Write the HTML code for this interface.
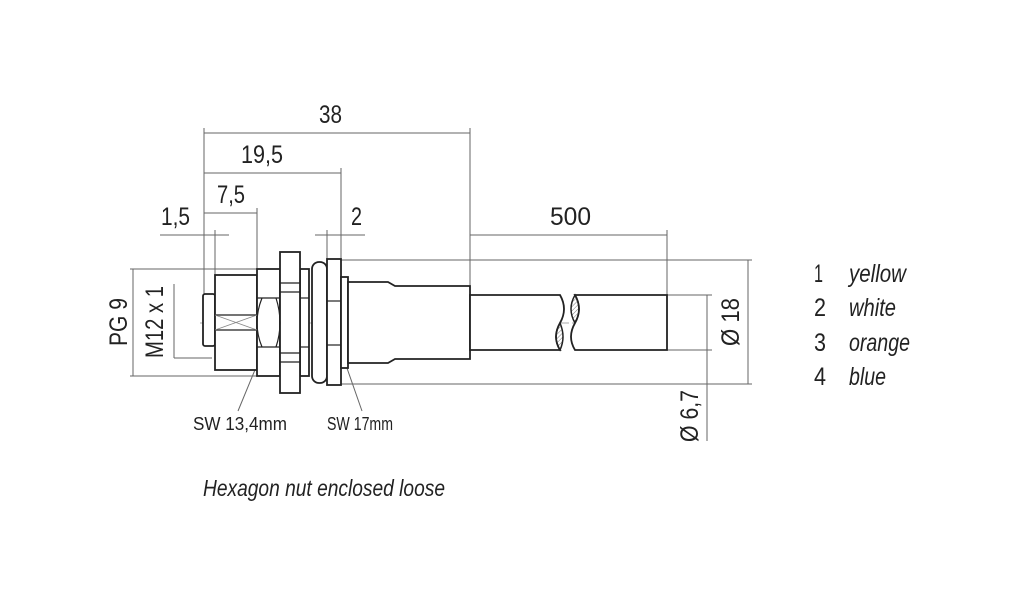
<!DOCTYPE html>
<html><head><meta charset="utf-8"><style>
html,body{margin:0;padding:0;background:#fff;}
svg{display:block;}
text{font-family:"Liberation Sans",sans-serif;fill:#222;}
</style></head><body>
<svg width="1009" height="602" viewBox="0 0 1009 602" xmlns="http://www.w3.org/2000/svg">
<defs>
<pattern id="h" width="3" height="3" patternUnits="userSpaceOnUse" patternTransform="rotate(45)"><line x1="0" y1="0" x2="0" y2="3" stroke="#555" stroke-width="0.8"/></pattern>
</defs>
<g stroke="#666" stroke-width="1" fill="none">
<line x1="204" y1="128" x2="204" y2="300"/>
<line x1="470" y1="128" x2="470" y2="288"/>
<line x1="341" y1="168" x2="341" y2="260"/>
<line x1="257" y1="208" x2="257" y2="270"/>
<line x1="215" y1="230" x2="215" y2="294"/>
<line x1="327" y1="230" x2="327" y2="260"/>
<line x1="667" y1="230" x2="667" y2="295"/>
<line x1="204" y1="133" x2="470" y2="133"/>
<line x1="204" y1="173" x2="341" y2="173"/>
<line x1="204" y1="213" x2="257" y2="213"/>
<line x1="160" y1="235" x2="229" y2="235"/>
<line x1="315" y1="235" x2="365" y2="235"/>
<line x1="470" y1="235" x2="667" y2="235"/>
<line x1="130" y1="269" x2="258" y2="269"/>
<line x1="130" y1="376" x2="258" y2="376"/>
<line x1="133" y1="269" x2="133" y2="376"/>
<line x1="174" y1="284" x2="174" y2="358"/>
<line x1="174" y1="358" x2="212" y2="358"/>
<line x1="341" y1="260" x2="752" y2="260"/>
<line x1="341" y1="384" x2="752" y2="384"/>
<line x1="748" y1="260" x2="748" y2="384"/>
<line x1="667" y1="295" x2="712" y2="295"/>
<line x1="667" y1="350" x2="712" y2="350"/>
<line x1="707" y1="295" x2="707" y2="441"/>
<line x1="200" y1="323" x2="667" y2="323" stroke="#aaa" stroke-dasharray="18 3 3 3"/>
<line x1="238" y1="411" x2="271" y2="331"/>
<line x1="362" y1="411" x2="334" y2="331"/>
</g>
<g fill="#222">
<path d="M271 328 l-2 8 l4 -1z"/><path d="M334 328 l-1 8 l4 -2z"/>
</g>
<g stroke="#222" stroke-width="1.8" fill="#fff">
<rect x="203" y="294" width="12" height="52" rx="2"/>
<rect x="215" y="275" width="42" height="95"/>
<rect x="257" y="269" width="23" height="107"/>
<rect x="300" y="269" width="9" height="107"/>
<rect x="312" y="262" width="15" height="121" rx="7"/>
<rect x="280" y="252" width="20" height="141"/>
<rect x="327" y="259" width="14" height="126"/>
<rect x="341" y="277" width="7" height="91"/>
<path d="M348 282 H388 L395 286 H470 V359 H395 L388 363 H348 Z"/>
<path d="M470 295 H560 Q568 309 560 323 Q552 337 560 350 H470 Z"/>
<path d="M575 295 H667 V350 H575 Q567 337 575 323 Q583 309 575 295 Z"/>
</g>
<path d="M560 323 Q552 337 560 350 Q566 337 560 323Z" fill="url(#h)" stroke="#222" stroke-width="1.5"/>
<path d="M575 295 Q567 309 575 323 Q583 309 575 295Z" fill="url(#h)" stroke="#222" stroke-width="1.5"/>
<g stroke="#222" stroke-width="1.2" fill="none">
<line x1="215" y1="315" x2="257" y2="315"/><line x1="215" y1="330" x2="257" y2="330"/>
<line x1="257" y1="298" x2="280" y2="298"/><line x1="257" y1="347" x2="280" y2="347"/>
<line x1="280" y1="283" x2="300" y2="283"/><line x1="280" y1="292" x2="300" y2="292"/>
<line x1="280" y1="353" x2="300" y2="353"/><line x1="280" y1="362" x2="300" y2="362"/>
<line x1="300" y1="298" x2="309" y2="298"/><line x1="300" y1="347" x2="309" y2="347"/>
<line x1="327" y1="301" x2="341" y2="301"/><line x1="327" y1="345" x2="341" y2="345"/>
<path d="M262 298 Q252 323 262 347" /><path d="M276 298 Q284 323 276 347"/>
</g>
<g stroke="#888" stroke-width="0.8"><line x1="215" y1="315" x2="257" y2="330"/><line x1="215" y1="330" x2="257" y2="315"/></g>
<g font-size="25" lengthAdjust="spacingAndGlyphs">
<text x="319" y="123" textLength="23" lengthAdjust="spacingAndGlyphs">38</text>
<text x="241" y="163" textLength="42" lengthAdjust="spacingAndGlyphs">19,5</text>
<text x="217" y="203" textLength="28" lengthAdjust="spacingAndGlyphs">7,5</text>
<text x="161" y="225" textLength="29" lengthAdjust="spacingAndGlyphs">1,5</text>
<text x="351" y="225" textLength="11" lengthAdjust="spacingAndGlyphs">2</text>
<text x="550" y="225" textLength="41" lengthAdjust="spacingAndGlyphs">500</text>
<text transform="translate(127,322) rotate(-90)" x="-24" textLength="48" lengthAdjust="spacingAndGlyphs">PG 9</text>
<text transform="translate(163,322) rotate(-90)" x="-36" textLength="72" lengthAdjust="spacingAndGlyphs">M12 x 1</text>
<text transform="translate(739,322) rotate(-90)" x="-24" textLength="48" lengthAdjust="spacingAndGlyphs">Ø 18</text>
<text transform="translate(698,418) rotate(-90)" x="-24" textLength="52" lengthAdjust="spacingAndGlyphs">Ø 6,7</text>
<text x="814" y="282" textLength="9" lengthAdjust="spacingAndGlyphs">1</text>
<text x="814" y="316" textLength="12" lengthAdjust="spacingAndGlyphs">2</text>
<text x="814" y="351" textLength="12" lengthAdjust="spacingAndGlyphs">3</text>
<text x="814" y="385" textLength="12" lengthAdjust="spacingAndGlyphs">4</text>
<g font-style="italic">
<text x="849" y="282" textLength="57" lengthAdjust="spacingAndGlyphs">yellow</text>
<text x="849" y="316" textLength="47" lengthAdjust="spacingAndGlyphs">white</text>
<text x="849" y="351" textLength="61" lengthAdjust="spacingAndGlyphs">orange</text>
<text x="849" y="385" textLength="37" lengthAdjust="spacingAndGlyphs">blue</text>
<text x="203" y="496" font-size="23" textLength="242" lengthAdjust="spacingAndGlyphs">Hexagon nut enclosed loose</text></g>
</g>
<g font-size="18"><text x="193" y="430" textLength="94" lengthAdjust="spacingAndGlyphs">SW 13,4mm</text><text x="327" y="430" textLength="66" lengthAdjust="spacingAndGlyphs">SW 17mm</text></g>
</svg>
</body></html>
